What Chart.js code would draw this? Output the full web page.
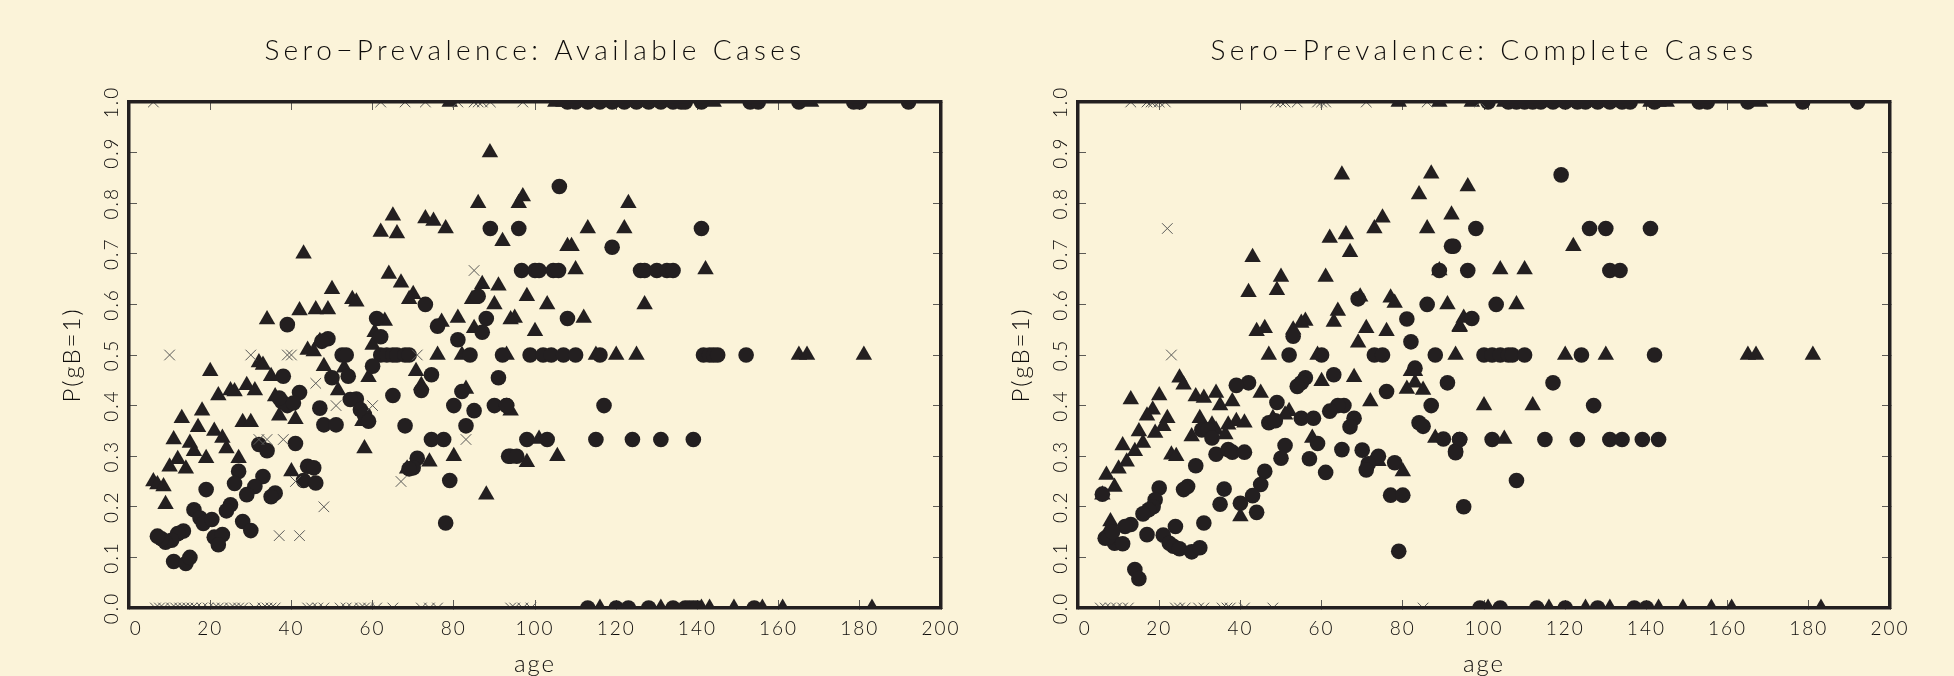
<!DOCTYPE html>
<html>
<head>
<meta charset="utf-8">
<title>Sero-Prevalence</title>
<script src="https://cdn.jsdelivr.net/npm/chart.js@4"></script>
<style>
  body { margin: 0; background: #fbf3d9; overflow: hidden; }
  canvas { position: absolute; top: 0; }
  #leftChart { left: 0; }
  #rightChart { left: 977px; }
</style>
</head>
<body>
<canvas id="leftChart" width="977" height="676"></canvas>
<canvas id="rightChart" width="977" height="676"></canvas>
<script>
// Tick labels
const ageTicks = [0, 20, 40, 60, 80, 100, 120, 140, 160, 180, 200];
const probTicks = [0, 0.1, 0.2, 0.3, 0.4, 0.5, 0.6, 0.7, 0.8, 0.9, 1];

// Available cases: triangles
const leftTriAge = [88.9, 86, 92, 43, 65, 62, 66, 73, 75, 78, 64, 67, 70, 69, 50, 55, 56, 34, 42, 46, 49, 63, 60.5, 77, 81, 85, 87, 91, 90, 84.5, 94, 60, 76, 82, 44, 45.5, 47, 32, 33, 20, 48, 53, 59, 35, 70.7, 72, 51.5, 83, 36, 29, 31, 22, 25, 26, 18, 13, 17, 21, 23, 24, 11, 15, 16, 19, 12, 10, 14, 6, 7, 8.5, 9, 27, 28, 30, 37, 41, 40, 57.5, 58, 68.5, 74, 80, 88, 94, 101, 105.5, 98, 96, 97, 113, 122, 123, 108, 109, 110, 142, 98, 103, 127, 95, 112, 100, 93, 115, 120, 125, 165, 167, 181,
  79, 105, 107, 109, 112, 115, 118, 121, 124, 126, 129, 132, 135, 144, 168,
  116, 131, 141, 143, 149, 156, 161, 183];
const leftTriP = [0.9, 0.8, 0.725, 0.7, 0.775, 0.743, 0.74, 0.77, 0.765, 0.75, 0.66, 0.643, 0.62, 0.61, 0.63, 0.61, 0.605, 0.57, 0.588, 0.59, 0.59, 0.567, 0.545, 0.565, 0.573, 0.553, 0.64, 0.637, 0.6, 0.61, 0.57, 0.52, 0.5, 0.5, 0.51, 0.507, 0.527, 0.485, 0.48, 0.468, 0.478, 0.475, 0.456, 0.458, 0.468, 0.44, 0.43, 0.433, 0.418, 0.44, 0.43, 0.42, 0.43, 0.428, 0.39, 0.375, 0.357, 0.35, 0.336, 0.315, 0.333, 0.326, 0.31, 0.296, 0.294, 0.279, 0.275, 0.25, 0.244, 0.24, 0.205, 0.296, 0.367, 0.367, 0.38, 0.373, 0.27, 0.369, 0.315, 0.275, 0.289, 0.3, 0.224, 0.39, 0.334, 0.3, 0.288, 0.8, 0.813, 0.75, 0.75, 0.8, 0.715, 0.715, 0.669, 0.669, 0.616, 0.6, 0.6, 0.573, 0.573, 0.547, 0.5, 0.5, 0.5, 0.5, 0.5, 0.5, 0.5,
  1, 1, 1, 1, 1, 1, 1, 1, 1, 1, 1, 1, 1, 1, 1,
  0, 0, 0, 0, 0, 0, 0, 0];

// Available cases: circles
const leftCircleAge = [89, 73, 86, 61, 62, 49, 47.5, 39, 52.5, 53.5, 62, 63.5, 65, 66, 68, 69, 88, 76, 87, 81, 84, 92, 60, 38, 50, 54, 74.5, 91, 72, 42, 65, 82, 37.6, 39, 40.5, 37, 56, 54.5, 47, 48, 51, 57, 58, 59, 80, 85, 90, 93, 68, 83, 74.5, 77.5, 71, 70, 69, 79, 78, 94, 41, 32, 34, 33, 44, 45.5, 43, 46, 27, 26, 19, 31, 29, 36, 35, 25, 24, 16, 17.5, 18.3, 20.4, 28, 30, 21, 23, 22, 13.4, 12, 10.5, 9, 8, 7, 11, 14, 15, 96, 106, 119, 141, 96.7, 100, 101, 104.5, 105.8, 126, 127, 130, 132.5, 134, 108, 98.8, 102, 104, 107, 110, 116, 141.5, 143, 144, 145, 152, 93, 117, 98, 103, 115, 124, 131, 139, 93.5, 95.5,
  108, 110, 113, 116, 119, 122, 125, 128, 131, 134, 136, 137, 141, 153, 155, 165, 178.5, 180, 192,
  113, 120, 123, 128, 134, 137, 138, 139, 140, 154];
const leftCircleP = [0.75, 0.6, 0.616, 0.572, 0.536, 0.532, 0.527, 0.56, 0.5, 0.5, 0.5, 0.5, 0.5, 0.5, 0.5, 0.5, 0.572, 0.557, 0.545, 0.53, 0.5, 0.5, 0.478, 0.458, 0.455, 0.458, 0.461, 0.455, 0.43, 0.426, 0.42, 0.428, 0.408, 0.4, 0.405, 0.415, 0.413, 0.412, 0.395, 0.362, 0.362, 0.392, 0.382, 0.369, 0.4, 0.39, 0.4, 0.4, 0.36, 0.36, 0.333, 0.333, 0.296, 0.277, 0.275, 0.252, 0.168, 0.3, 0.325, 0.323, 0.311, 0.26, 0.28, 0.277, 0.252, 0.247, 0.27, 0.246, 0.234, 0.24, 0.224, 0.227, 0.22, 0.204, 0.192, 0.194, 0.178, 0.167, 0.175, 0.171, 0.153, 0.14, 0.145, 0.125, 0.152, 0.147, 0.134, 0.13, 0.137, 0.142, 0.092, 0.088, 0.1, 0.75, 0.833, 0.713, 0.75, 0.667, 0.667, 0.667, 0.667, 0.667, 0.667, 0.667, 0.667, 0.667, 0.667, 0.572, 0.5, 0.5, 0.5, 0.5, 0.5, 0.5, 0.5, 0.5, 0.5, 0.5, 0.5, 0.4, 0.4, 0.333, 0.333, 0.333, 0.333, 0.333, 0.333, 0.3, 0.3,
  1, 1, 1, 1, 1, 1, 1, 1, 1, 1, 1, 1, 1, 1, 1, 1, 1, 1, 1,
  0, 0, 0, 0, 0, 0, 0, 0, 0, 0];

// Available cases: crosses
const leftCrossAge = [6, 62, 68, 73, 81, 85, 86, 87, 89, 97, 10, 30, 39, 40, 71, 85, 46, 51, 60, 32, 34, 38, 83, 67, 41, 48, 37, 42,
  6.5, 7.5, 8.5, 10.5, 11.5, 12.5, 13.5, 14.5, 15.5, 16.5, 18, 19.5, 21, 22, 23, 25, 26, 27, 28, 31, 33, 34, 35, 36, 44, 45, 46.5, 48, 52, 53.5, 55, 57, 58, 59, 61, 65, 72, 74, 76, 94, 95, 97, 99];
const leftCrossP = [1, 1, 1, 1, 1, 1, 1, 1, 1, 1, 0.5, 0.5, 0.5, 0.5, 0.5, 0.667, 0.444, 0.4, 0.4, 0.333, 0.333, 0.333, 0.333, 0.25, 0.25, 0.2, 0.143, 0.143,
  0, 0, 0, 0, 0, 0, 0, 0, 0, 0, 0, 0, 0, 0, 0, 0, 0, 0, 0, 0, 0, 0, 0, 0, 0, 0, 0, 0, 0, 0, 0, 0, 0, 0, 0, 0, 0, 0, 0, 0, 0, 0, 0];

// Complete cases: triangles
const rightTriAge = [65, 87, 84, 92, 86, 75, 73, 66, 62, 67, 43, 89, 61, 50, 49, 42, 69.5, 77, 78, 91, 64, 56, 55, 63, 46, 44, 53, 71, 76, 94, 69, 47, 59, 93, 25, 26, 13, 20, 18.4, 17, 22, 21, 19, 15, 16, 11, 14, 12, 10, 7, 9, 6, 8, 8, 29, 31, 34, 35, 38, 45, 68, 60, 72, 81, 83, 85, 82, 83, 30, 28, 33, 34, 36.3, 37, 39, 41, 23, 24.2, 48, 52, 51, 57.7, 80, 74, 72.5, 40, 88, 96, 122, 104, 110, 108, 95, 94, 120, 130, 165, 167, 181, 100, 112, 105,
  79, 89, 97, 105, 109, 113, 116, 119, 122, 126, 129, 133, 141, 143, 145, 168,
  101, 116, 125, 131, 143, 149, 156, 161, 183];
const rightTriP = [0.856, 0.858, 0.817, 0.777, 0.75, 0.771, 0.75, 0.738, 0.731, 0.703, 0.693, 0.667, 0.654, 0.654, 0.628, 0.624, 0.615, 0.613, 0.603, 0.6, 0.587, 0.567, 0.563, 0.565, 0.553, 0.547, 0.55, 0.553, 0.547, 0.557, 0.524, 0.5, 0.5, 0.5, 0.455, 0.441, 0.412, 0.42, 0.392, 0.38, 0.375, 0.359, 0.346, 0.349, 0.326, 0.321, 0.31, 0.289, 0.275, 0.263, 0.239, 0.224, 0.171, 0.161, 0.418, 0.415, 0.425, 0.4, 0.408, 0.425, 0.456, 0.448, 0.408, 0.433, 0.445, 0.431, 0.468, 0.468, 0.375, 0.339, 0.362, 0.352, 0.343, 0.362, 0.369, 0.366, 0.303, 0.3, 0.375, 0.389, 0.382, 0.336, 0.27, 0.29, 0.29, 0.181, 0.336, 0.833, 0.715, 0.669, 0.669, 0.6, 0.573, 0.555, 0.5, 0.5, 0.5, 0.5, 0.5, 0.4, 0.4, 0.334,
  1, 1, 1, 1, 1, 1, 1, 1, 1, 1, 1, 1, 1, 1, 1, 1,
  0, 0, 0, 0, 0, 0, 0, 0, 0];

// Complete cases: circles
const rightCircleAge = [92, 89, 86, 69, 53, 81, 82, 52, 60, 73, 75, 88, 83, 56, 55, 54, 63, 42, 39, 91, 76, 49, 87, 65.5, 64, 62, 68, 67, 84, 85, 47, 48.6, 55, 58, 90, 94, 93, 59, 51, 65, 70, 50, 57, 74, 71.5, 71, 78, 61, 46, 45, 43, 40, 44, 36, 35, 77, 80, 79, 34, 37, 38, 41, 30.5, 32, 33, 29, 27, 26, 20, 19, 18.5, 17.4, 16, 17, 13, 11.6, 24, 31, 21, 22.5, 23.5, 25, 28, 30, 6.7, 9, 11, 7.5, 8.5, 6, 14, 15,
  119, 98, 92.5, 126, 130, 141, 96, 131, 133.5, 103, 97, 100, 102, 104, 106, 107, 110, 124, 142, 117, 127, 94, 102, 115, 123, 131, 134, 139, 143, 93, 108, 95,
  101, 106, 108, 110, 112, 114, 117, 120, 123, 125, 128, 131, 134, 136, 142, 153, 155, 165, 178.5, 192,
  99, 104, 113, 120, 128, 137, 140];
const rightCircleP = [0.715, 0.667, 0.6, 0.611, 0.537, 0.571, 0.526, 0.5, 0.5, 0.5, 0.5, 0.5, 0.474, 0.455, 0.445, 0.438, 0.461, 0.445, 0.44, 0.445, 0.428, 0.406, 0.4, 0.4, 0.4, 0.389, 0.375, 0.358, 0.366, 0.359, 0.366, 0.37, 0.375, 0.375, 0.334, 0.333, 0.31, 0.325, 0.321, 0.313, 0.312, 0.296, 0.295, 0.3, 0.285, 0.273, 0.287, 0.268, 0.27, 0.244, 0.222, 0.207, 0.189, 0.235, 0.205, 0.223, 0.223, 0.112, 0.304, 0.313, 0.308, 0.308, 0.352, 0.352, 0.336, 0.281, 0.24, 0.234, 0.237, 0.214, 0.2, 0.194, 0.186, 0.145, 0.165, 0.161, 0.161, 0.168, 0.144, 0.128, 0.122, 0.117, 0.111, 0.119, 0.138, 0.128, 0.127, 0.14, 0.15, 0.225, 0.076, 0.058,
  0.856, 0.75, 0.715, 0.75, 0.75, 0.75, 0.667, 0.667, 0.667, 0.6, 0.572, 0.5, 0.5, 0.5, 0.5, 0.5, 0.5, 0.5, 0.5, 0.445, 0.4, 0.333, 0.333, 0.333, 0.333, 0.333, 0.333, 0.333, 0.333, 0.307, 0.252, 0.2,
  1, 1, 1, 1, 1, 1, 1, 1, 1, 1, 1, 1, 1, 1, 1, 1, 1, 1, 1, 1,
  0, 0, 0, 0, 0, 0, 0];

// Complete cases: crosses
const rightCrossAge = [13, 17, 18, 18.6, 20, 21.5, 48.6, 50, 51, 54, 59, 60, 61, 71, 86, 99, 22, 23,
  5.5, 6.7, 8, 9.5, 11, 12.4, 24, 25, 26.4, 29.7, 31, 35.5, 36.7, 37.5, 41, 48, 85];
const rightCrossP = [1, 1, 1, 1, 1, 1, 1, 1, 1, 1, 1, 1, 1, 1, 1, 1, 0.75, 0.5,
  0, 0, 0, 0, 0, 0, 0, 0, 0, 0, 0, 0, 0, 0, 0, 0, 0];

const ink = "#231f20";
const textColor = "#0e0c0b";
const fontFamily = "Lato, 'Liberation Sans', sans-serif";

// Chart.js has no letter spacing option, the canvas context does.
// The title is wider than the tick labels so it gets its own value.
const spacingPlugin = {
    id: "spacing",
    beforeDraw(chart) {
        const ctx = chart.ctx;
        ctx.letterSpacing = "2px";
        const titleBox = chart.titleBlock;
        if (!titleBox.spaced) {
            const drawTitle = titleBox.draw;
            titleBox.draw = function () {
                ctx.save();
                ctx.letterSpacing = "4.4px";
                drawTitle.call(titleBox);
                ctx.restore();
            };
            titleBox.spaced = true;
        }
    }
};

function toPoints(ages, probs) {
    return ages.map((age, i) => ({ x: age, y: probs[i] }));
}

function markDataset(ages, probs, style) {
    return Object.assign({
        data: toPoints(ages, probs),
        showLine: false,
        clip: 0,
        pointBorderWidth: 0,
        pointBackgroundColor: ink,
        pointBorderColor: ink
    }, style);
}

function frameGrid() {
    return { display: true, drawOnChartArea: false, drawTicks: true, tickLength: -8, tickColor: "#5c5a55", tickWidth: 1 };
}

function frameBorder() {
    return { display: true, color: ink, width: 3.5, z: 1 };
}

function makeChart(canvasId, titleText, tri, circle, cross, plotLeft, plotRight) {
    new Chart(document.getElementById(canvasId), {
        type: "scatter",
        data: {
            datasets: [
                markDataset(cross[0], cross[1], { pointStyle: "crossRot", pointRadius: 7.5, pointBorderWidth: 1, pointBorderColor: "#5a5a58" }),
                markDataset(circle[0], circle[1], { pointStyle: "circle", pointRadius: 7.8 }),
                markDataset(tri[0], tri[1], { pointStyle: "triangle", pointRadius: 9.5 })
            ]
        },
        plugins: [spacingPlugin],
        options: {
            responsive: false,
            animation: false,
            layout: { padding: { left: 0, right: plotRight, top: 0, bottom: 0 } },
            plugins: {
                legend: { display: false },
                tooltip: { enabled: false },
                title: {
                    display: true,
                    text: titleText,
                    fullSize: false,
                    color: textColor,
                    font: { family: fontFamily, size: 28, weight: "300", lineHeight: "26px" },
                    padding: { top: 38, bottom: 38 }
                }
            },
            scales: {
                x: {
                    type: "linear",
                    position: "bottom",
                    min: 0,
                    max: 200,
                    afterFit(scale) { scale.height = 68; },
                    afterBuildTicks(scale) { scale.ticks = ageTicks.map(v => ({ value: v })); },
                    grid: frameGrid(),
                    border: frameBorder(),
                    ticks: {
                        autoSkip: false,
                        maxRotation: 0,
                        padding: 17,
                        color: textColor,
                        font: { family: fontFamily, size: 19, weight: "300" },
                        // the 0 label sits a little right of its tick in the original
                        callback: v => (v === 0 ? "  0" : String(v))
                    },
                    title: { display: true, text: "age", color: textColor, padding: 0, font: { family: fontFamily, size: 24, weight: "300", lineHeight: "24px" } }
                },
                y: {
                    type: "linear",
                    position: "left",
                    min: 0,
                    max: 1,
                    afterFit(scale) { scale.width = plotLeft; },
                    afterBuildTicks(scale) { scale.ticks = probTicks.map(v => ({ value: v })); },
                    grid: frameGrid(),
                    border: frameBorder(),
                    ticks: {
                        autoSkip: false,
                        minRotation: 90,
                        maxRotation: 90,
                        crossAlign: "center",
                        padding: 12,
                        color: textColor,
                        font: { family: fontFamily, size: 19, weight: "300" },
                        callback: v => v.toFixed(1)
                    },
                    title: { display: true, text: "P(gB=1)", color: textColor, padding: { top: plotLeft - 69, bottom: 0 }, font: { family: fontFamily, size: 24, weight: "300", lineHeight: "24px" } }
                },
                x2: {
                    type: "linear",
                    axis: "x",
                    position: "top",
                    min: 0,
                    max: 200,
                    afterFit(scale) { scale.height = 0; },
                    afterBuildTicks(scale) { scale.ticks = ageTicks.map(v => ({ value: v })); },
                    grid: frameGrid(),
                    border: frameBorder(),
                    ticks: { display: false }
                },
                y2: {
                    type: "linear",
                    axis: "y",
                    position: "right",
                    min: 0,
                    max: 1,
                    afterFit(scale) { scale.width = 0; },
                    afterBuildTicks(scale) { scale.ticks = probTicks.map(v => ({ value: v })); },
                    grid: frameGrid(),
                    border: frameBorder(),
                    ticks: { display: false }
                }
            }
        }
    });
}

makeChart("leftChart", "Sero\u2212Prevalence: Available Cases",
    [leftTriAge, leftTriP], [leftCircleAge, leftCircleP], [leftCrossAge, leftCrossP], 129, 36);
makeChart("rightChart", "Sero\u2212Prevalence: Complete Cases",
    [rightTriAge, rightTriP], [rightCircleAge, rightCircleP], [rightCrossAge, rightCrossP], 101, 64);
</script>
</body>
</html>
